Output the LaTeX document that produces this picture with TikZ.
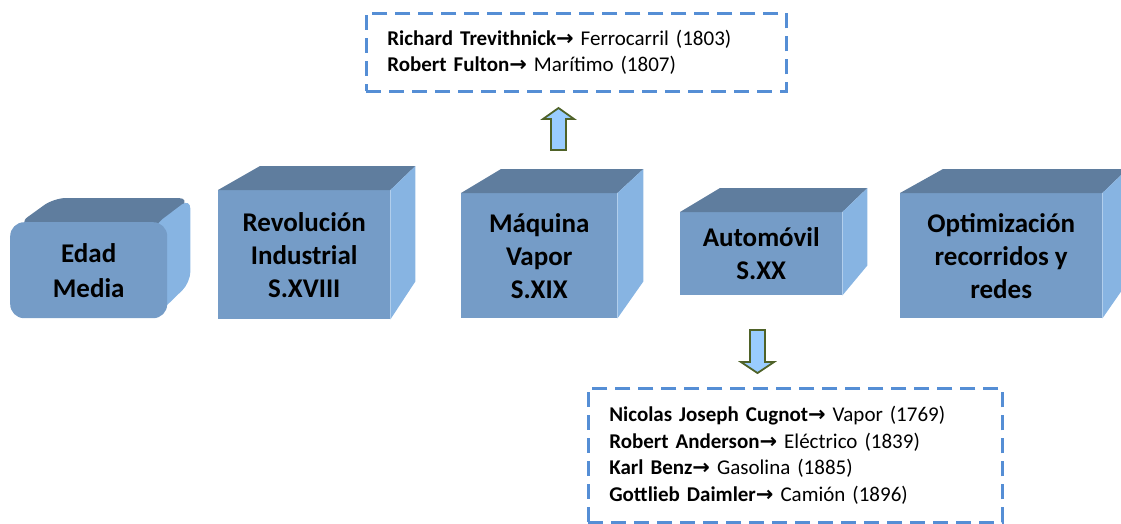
\documentclass[tikz,border=0pt]{standalone}
\usepackage{fontspec}
\setmainfont{Carlito}
\newfontfamily\symfont{DejaVu Sans}
\usetikzlibrary{calc,backgrounds}
\definecolor{frontc}{RGB}{117,156,199}
\definecolor{topc}{RGB}{95,125,158}
\definecolor{sidec}{RGB}{135,180,226}
\definecolor{dashc}{RGB}{85,142,213}
\definecolor{arrfill}{RGB}{153,204,255}
\definecolor{arrline}{RGB}{79,98,40}
\newcommand{\arr}{{\symfont\bfseries →}}
% name, x1, y1, x2, y2, dxl, dxr, dyb, text
\newcommand{\mkcube}[9]{%
  \node[frontbox, minimum width=#4pt-#2pt, minimum height=#5pt-#3pt, anchor=north west] (#1) at (#2,#3) {#9};
  \fill[topc] (#1.north west) -- ++(#6,-24) -- ($(#1.north east)+(#7,-24)$) -- (#1.north east) -- cycle;
  \fill[sidec] (#1.north east) -- ++(#7,-24) -- ($(#1.south east)+(#7,-#8)$) -- (#1.south east) -- cycle;
}
\tikzset{
  frontbox/.style={fill=frontc, inner sep=0pt, align=center,
    font=\fontsize{27}{33}\selectfont\bfseries},
  dashbox/.style={draw=dashc, line width=2.6pt, dash pattern=on 15pt off 8pt,
    align=left, inner xsep=21pt, inner ysep=0pt, anchor=north west,
    font=\fontsize{21}{26.5}\selectfont},
  blockarrow/.style={fill=arrfill, draw=arrline, line width=1.8pt, line join=miter}
}
\begin{document}
\begin{tikzpicture}[x=1pt,y=-1pt]
\useasboundingbox (0,0) rectangle (1121,523);
\clip (0,0) rectangle (1121,523);
% Box 1 (rounded)
\node[frontbox, rounded corners=14pt, minimum width=157pt, minimum height=96pt, anchor=north west,
  font=\fontsize{27}{35}\selectfont\bfseries] (b1) at (10,222) {Edad\\Media};
\begin{pgfonlayer}{background}
\fill[topc, rounded corners=12pt] ($(b1.north west)+(8,2)$) -- ($(b1.north west)+(44,-24)$) -- ($(b1.north east)+(23,-24)$) -- ($(b1.north east)+(-6,6)$) -- cycle;
\fill[sidec, rounded corners=11pt] ($(b1.north east)+(-14,4)$) -- ($(b1.north east)+(23,-24)$) -- ($(b1.south east)+(23,-36)$) -- ($(b1.south east)+(-14,0)$) -- cycle;
\end{pgfonlayer}
% Other boxes
\mkcube{b2}{218}{190}{390}{319}{42}{25}{38}{Revolución\\Industrial\\S.XVIII}
\mkcube{b3}{461}{193}{617}{318}{40}{26}{37}{Máquina\\Vapor\\S.XIX}
\mkcube{b4}{680}{212}{842}{295}{40}{25}{30}{Automóvil\\S.XX}
\mkcube{b5}{900}{193}{1102}{318}{43}{25}{36}{Optimización\\recorridos y\\redes}
% Dashed boxes
\node[dashbox, text width=378pt, minimum height=78pt] (top) at (365,12)
  {\textbf{Richard Trevithnick}\arr\ Ferrocarril (1803)\\
   \textbf{Robert Fulton}\arr\ Marítimo (1807)};
\node[dashbox, text width=372pt, minimum height=134pt] (bot) at (587,387)
  {\textbf{Nicolas Joseph Cugnot}\arr\ Vapor (1769)\\
   \textbf{Robert Anderson}\arr\ Eléctrico (1839)\\
   \textbf{Karl Benz}\arr\ Gasolina (1885)\\
   \textbf{Gottlieb Daimler}\arr\ Camión (1896)};
% Block arrows
\draw[blockarrow] (551,150) -- (551,119) -- (543,119) -- (558.5,108) -- (574,119) -- (566,119) -- (566,150) -- cycle;
\draw[blockarrow] (750,330) -- (750,362) -- (741,362) -- (757.5,373) -- (774,362) -- (765,362) -- (765,330) -- cycle;
\end{tikzpicture}
\end{document}
